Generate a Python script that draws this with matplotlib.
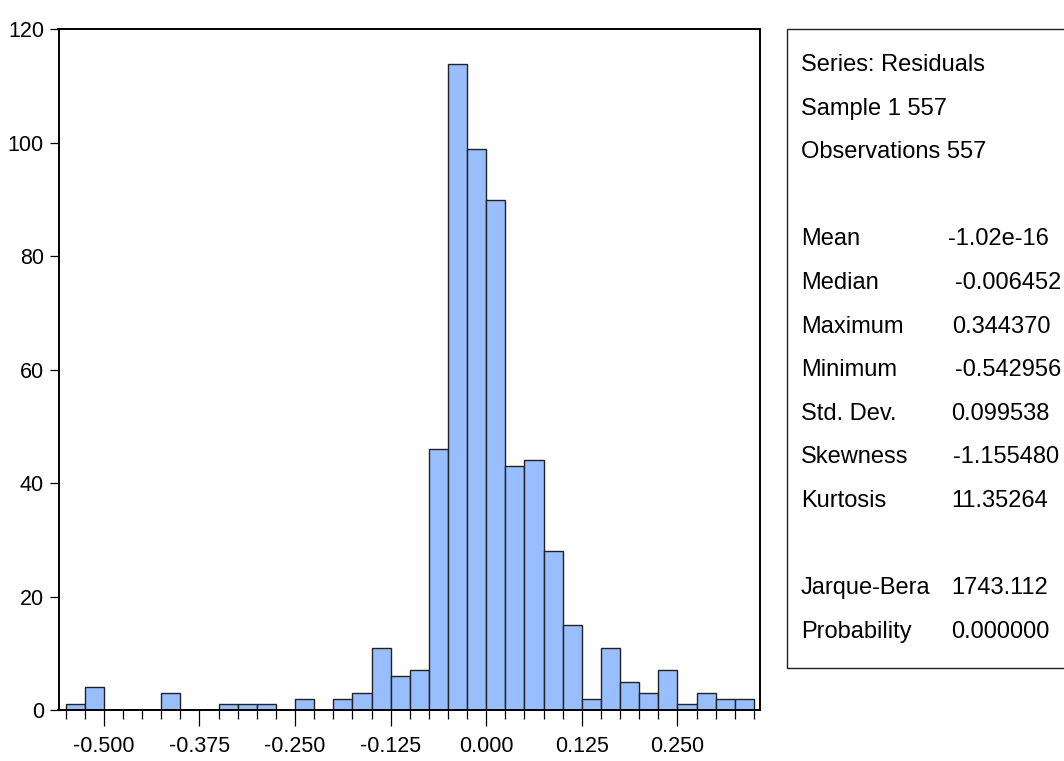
import matplotlib
matplotlib.use("Agg")
import matplotlib.pyplot as plt
from matplotlib.patches import Rectangle
import numpy as np

# histogram of residuals, bins of 0.025 from -0.55 to 0.35
bin_start = -0.55
bin_width = 0.025
counts = [1, 4, 0, 0, 0, 3, 0, 0, 1, 1, 1, 0, 2, 0, 2, 3, 11, 6, 7, 46,
          114, 99, 90, 43, 44, 28, 15, 2, 11, 5, 3, 7, 1, 3, 2, 2]
major_ticks = [-0.500, -0.375, -0.250, -0.125, 0.000, 0.125, 0.250]
y_ticks = [0, 20, 40, 60, 80, 100, 120]

header_lines = ["Series: Residuals", "Sample 1 557", "Observations 557"]
stat_names = ["Mean", "Median", "Maximum", "Minimum", "Std. Dev.", "Skewness", "Kurtosis"]
stat_values = ["-1.02e-16", "-0.006452", "0.344370", "-0.542956", "0.099538", "-1.155480", "11.35264"]
test_names = ["Jarque-Bera", "Probability"]
test_values = ["1743.112", "0.000000"]

plt.rcParams["font.family"] = ["Liberation Sans", "DejaVu Sans"]

W, H = 1064, 761
fig = plt.figure(figsize=(W / 100, H / 100), dpi=100)
ax = fig.add_axes([58.5 / W, 1 - 710 / H, (760 - 58.5) / W, (710 - 29.5) / H])

edges = bin_start + bin_width * np.arange(len(counts) + 1)
ax.bar(edges[:-1], counts, width=bin_width, align="edge",
       color="#99BEFF", edgecolor="#222222", linewidth=1.0)

ax.set_xlim(-0.5593, 0.358)
ax.set_ylim(0, 120)
ax.set_xticks(major_ticks)
ax.set_xticklabels([f"{t:.3f}" for t in major_ticks])
ax.set_xticks(edges, minor=True)
ax.set_yticks(y_ticks)
ax.tick_params(axis="x", which="major", length=11.5, width=0.9, pad=7, labelsize=15.5, direction="out")
ax.tick_params(axis="x", which="minor", length=6.5, width=0.9, direction="out")
ax.tick_params(axis="y", length=6.5, width=0.9, pad=4, labelsize=15.5, direction="out")
for s in ax.spines.values():
    s.set_linewidth(1.4)

# stats box on the right
fig.patches.append(Rectangle((787 / W, 1 - 668 / H), 300 / W, (668 - 29) / H,
                             transform=fig.transFigure, fill=False,
                             edgecolor="#222222", linewidth=1.0))

row_h = 43.6
y0 = 65
fs = 17
for i, t in enumerate(header_lines):
    fig.text(801 / W, 1 - (y0 + i * row_h) / H, t, fontsize=fs, va="center", ha="left")

val_x = [948, 955, 952, 955, 951, 953, 951]
for i, (n, v) in enumerate(zip(stat_names, stat_values)):
    y = 1 - (y0 + (4 + i) * row_h) / H
    fig.text(801 / W, y, n, fontsize=fs, va="center", ha="left")
    fig.text(val_x[i] / W, y, v, fontsize=fs, va="center", ha="left")

for i, (n, v) in enumerate(zip(test_names, test_values)):
    y = 1 - (y0 + (12 + i) * row_h) / H
    fig.text(801 / W, y, n, fontsize=fs, va="center", ha="left")
    fig.text(951 / W, y, v, fontsize=fs, va="center", ha="left")

fig.savefig("out.png", dpi=100)
